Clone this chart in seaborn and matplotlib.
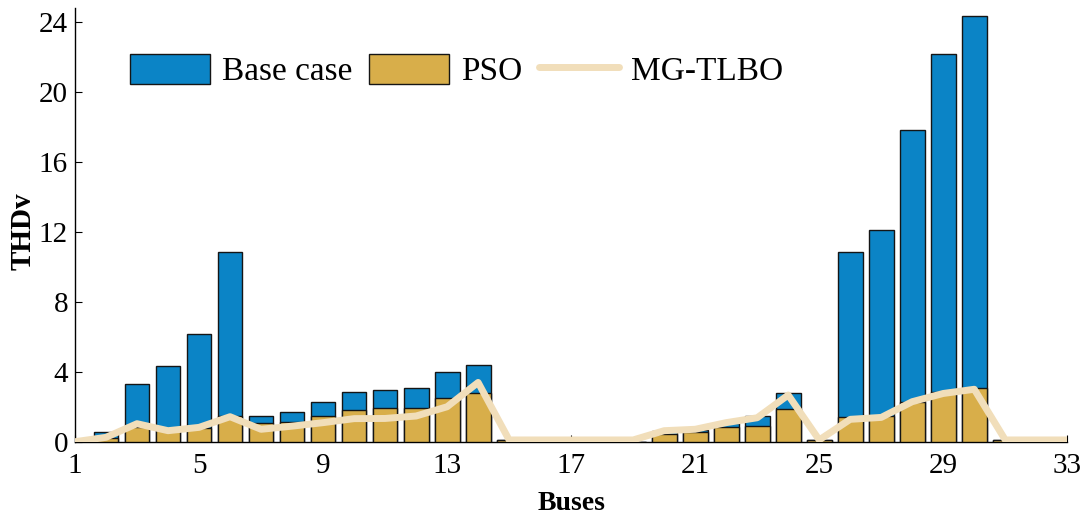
import matplotlib
matplotlib.use("Agg")
import matplotlib.pyplot as plt
from matplotlib.patches import Patch
from matplotlib.lines import Line2D
import numpy as np
import pandas as pd
import seaborn as sns

# Bus numbers of the 33-bus feeder
buses = list(range(1, 34))

# THDv (%) per bus
base_case = [0.0, 0.57, 3.30, 4.34, 6.15, 10.84, 1.49, 1.70, 2.29, 2.82,
             2.97, 3.09, 3.98, 4.37, 0.10, 0.0, 0.0, 0.0, 0.0, 0.60,
             0.65, 1.05, 1.48, 2.77, 0.10, 10.84, 12.11, 17.81, 22.17, 24.37,
             0.10, 0.0, 0.0]
pso = [0.0, 0.20, 0.85, 0.75, 0.80, 1.49, 1.05, 1.14, 1.47, 1.84,
       1.91, 1.93, 2.51, 2.77, 0.10, 0.0, 0.0, 0.0, 0.0, 0.45,
       0.57, 0.82, 0.91, 1.85, 0.10, 1.39, 1.47, 2.29, 2.86, 3.09,
       0.10, 0.0, 0.0]
mg_tlbo = [0.0, 0.25, 1.03, 0.63, 0.82, 1.43, 0.71, 0.89, 1.09, 1.32,
           1.33, 1.47, 2.00, 3.39, 0.10, 0.10, 0.10, 0.10, 0.10, 0.63,
           0.71, 1.09, 1.37, 2.67, 0.10, 1.28, 1.39, 2.29, 2.76, 3.00,
           0.10, 0.10, 0.10]

series_names = ["Base case", "PSO", "MG-TLBO"]
x_ticks = list(range(1, 34, 4))
y_ticks = list(range(0, 25, 4))

df = pd.DataFrame({"bus": buses, "base": base_case, "pso": pso, "tlbo": mg_tlbo})

BLUE = "#0B84C6"
GOLD = "#D8AE4A"
WHEAT = "#F1DEBA"
EDGE = "#151515"

sns.set_style("ticks")
plt.rcParams["font.family"] = ["Liberation Serif", "DejaVu Serif"]
for key in ("text.color", "axes.labelcolor", "xtick.color", "ytick.color"):
    plt.rcParams[key] = "black"

fig = plt.figure(figsize=(10.91, 5.16), dpi=100)
ax = fig.add_axes([0.06874, 0.14399, 0.97828 - 0.06874, 0.98391 - 0.14399])

sns.barplot(data=df, x="bus", y="base", native_scale=True, width=0.8,
            color=BLUE, edgecolor=EDGE, linewidth=1.0, saturation=1,
            errorbar=None, ax=ax, zorder=2)
sns.barplot(data=df, x="bus", y="pso", native_scale=True, width=0.8,
            color=GOLD, edgecolor=EDGE, linewidth=1.0, saturation=1,
            errorbar=None, ax=ax, zorder=3)
sns.lineplot(data=df, x="bus", y="tlbo", color=WHEAT, linewidth=5,
             ax=ax, zorder=4)

ax.set_xlim(1, 33)
ax.set_ylim(0, 24.8)
ax.set_xticks(x_ticks)
ax.set_yticks(y_ticks)
ax.tick_params(axis="both", direction="in", length=5, width=0.8,
               labelsize=21, colors="black")
ax.tick_params(axis="x", pad=8)
ax.tick_params(axis="y", pad=5)
sns.despine(ax=ax)
for side in ("left", "bottom"):
    ax.spines[side].set_linewidth(1.0)
    ax.spines[side].set_color("black")

ax.set_xlabel("Buses", fontsize=20, fontweight="bold", labelpad=9)
ax.set_ylabel("THDv", fontsize=21, fontweight="bold")
ax.yaxis.set_label_coords(-0.039, 0.485)

handles = [
    Patch(facecolor=BLUE, edgecolor=EDGE, linewidth=1.0),
    Patch(facecolor=GOLD, edgecolor=EDGE, linewidth=1.0),
    Line2D([0], [0], color=WHEAT, linewidth=5),
]
fig.legend(handles, series_names, loc="upper left",
           bbox_to_anchor=(130 / 1091, 1 - 54 / 516),
           bbox_transform=fig.transFigure, ncol=3, frameon=False,
           fontsize=24, handlelength=2.4, handleheight=1.0,
           handletextpad=0.36, columnspacing=0.5, borderpad=0,
           borderaxespad=0)

fig.savefig("out.png", dpi=100)
